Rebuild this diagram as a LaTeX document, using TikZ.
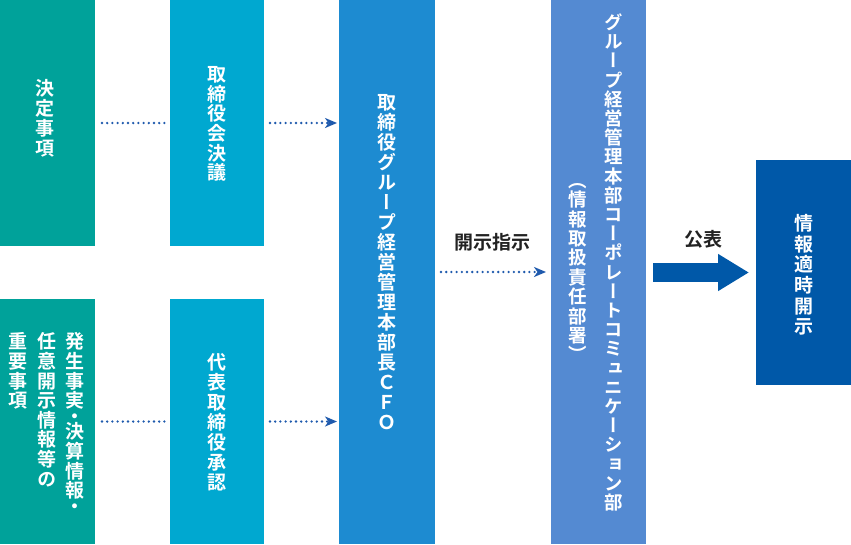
\documentclass[tikz,border=0pt]{standalone}
\usepackage{fontspec}
\usetikzlibrary{arrows.meta}
\newfontfamily\jp{Noto Sans CJK JP Bold}
\newfontfamily\jpv[RawFeature=+vert]{Noto Sans CJK JP Bold}
\definecolor{cA}{HTML}{00A29A}
\definecolor{cB}{HTML}{00A8D0}
\definecolor{cC}{HTML}{1D8BD1}
\definecolor{cD}{HTML}{548AD2}
\definecolor{cE}{HTML}{0058A8}
\definecolor{cdot}{HTML}{1F5AAD}
\definecolor{ctxt}{HTML}{222222}
\def\sh{SHDOT}
\def\vtchar#1{\ifx\sh#1\kern-4pt\hbox to 1em{\vrule height .88em depth .12em width 0pt\hss ・\hss}\kern-4pt\else\hbox to 1em{\vrule height .88em depth .12em width 0pt\hss#1\hss}\fi}
\def\vtloop#1{\ifx\relax#1\else\vtchar{#1}\expandafter\vtloop\fi}
\newcommand\vt[2]{\vbox{\baselineskip=#1\lineskip=0pt\lineskiplimit=-\maxdimen\vtloop#2\relax}}
\tikzset{
  box/.style={draw=none, inner sep=0pt, outer sep=0pt},
  vtxt/.style={inner sep=0pt, text=white, font=\jpv\fontsize{19}{20}\selectfont},
  lbl/.style={inner sep=0pt, text=ctxt, font=\jp\fontsize{19}{20}\selectfont},
  dotline/.style={draw=cdot, line width=2.6pt, line cap=round, dash pattern=on 0pt off 5.2pt},
  dotarrow/.style={dotline, -{Stealth[length=12pt,width=10pt,inset=3.5pt]}},
  bigarrow/.style={draw=cE, line width=19pt, -{Triangle[length=31pt,width=35pt]}}
}
\begin{document}
\begin{tikzpicture}[x=1pt,y=-1pt]
\useasboundingbox (0,0) rectangle (851,544);
% boxes
\node[box, fill=cA, minimum width=95pt, minimum height=246pt] (b1) at (47.5,123) {};
\node[box, fill=cA, minimum width=95pt, minimum height=245pt] (b1l) at (47.5,421.5) {};
\node[box, fill=cB, minimum width=94pt, minimum height=246pt] (b2) at (217,123) {};
\node[box, fill=cB, minimum width=94pt, minimum height=245pt] (b2l) at (217,421.5) {};
\node[box, fill=cC, minimum width=96pt, minimum height=544pt] (b3) at (387,272) {};
\node[box, fill=cD, minimum width=95pt, minimum height=544pt] (b4) at (598.5,272) {};
\node[box, fill=cE, minimum width=95pt, minimum height=225pt] (b5) at (803.5,272.5) {};
% texts
\node[vtxt] (t1) at (45,118.5) {\vt{20pt}{決定事項}};
\node[vtxt, anchor=north] (t1a) at (75,332) {\vt{19.6pt}{発生事実\sh 決算情報\sh}};
\node[vtxt, anchor=north] (t1b) at (47,332) {\vt{19.6pt}{任意開示情報等の}};
\node[vtxt, anchor=north] (t1c) at (18.5,332) {\vt{19.6pt}{重要事項}};
\node[vtxt] (t2) at (217,123.5) {\vt{19.6pt}{取締役会決議}};
\node[vtxt] (t2l) at (217,422) {\vt{20pt}{代表取締役承認}};
\node[vtxt] (t3) at (387,262.5) {\vt{20pt}{取締役グループ経営管理本部長ＣＦＯ}};
\node[vtxt, font=\jpv\fontsize{18.5}{19}\selectfont] (t4) at (614,262.5) {\vt{19.2pt}{グループ経営管理本部コーポレートコミュニケーション部}};
\node[vtxt, font=\jpv\fontsize{18.5}{19}\selectfont] (t4b) at (578,267.5) {\vt{19.4pt}{（情報取扱責任部署）}};
\node[vtxt] (t5) at (804,275) {\vt{20.6pt}{情報適時開示}};
\node[lbl] (l1) at (492,242) {開示指示};
\node[lbl] (l2) at (703,239) {公表};
% connectors
\draw[dotline, shorten <=7pt, shorten >=5.4pt] (b1) -- (b2);
\draw[dotline, shorten <=7pt, shorten >=5.4pt] (b1l) -- (b2l);
\draw[dotarrow, shorten <=6pt, shorten >=2pt] (b2.east) -- (b2.east -| b3.west);
\draw[dotarrow, shorten <=6pt, shorten >=2pt] (b2l.east) -- (b2l.east -| b3.west);
\draw[dotarrow, shorten <=6pt, shorten >=5pt] (b3) -- (b4);
\draw[bigarrow, shorten <=7pt, shorten >=7pt] (b4.east |- b5.west) -- (b5.west);
\end{tikzpicture}
\end{document}
